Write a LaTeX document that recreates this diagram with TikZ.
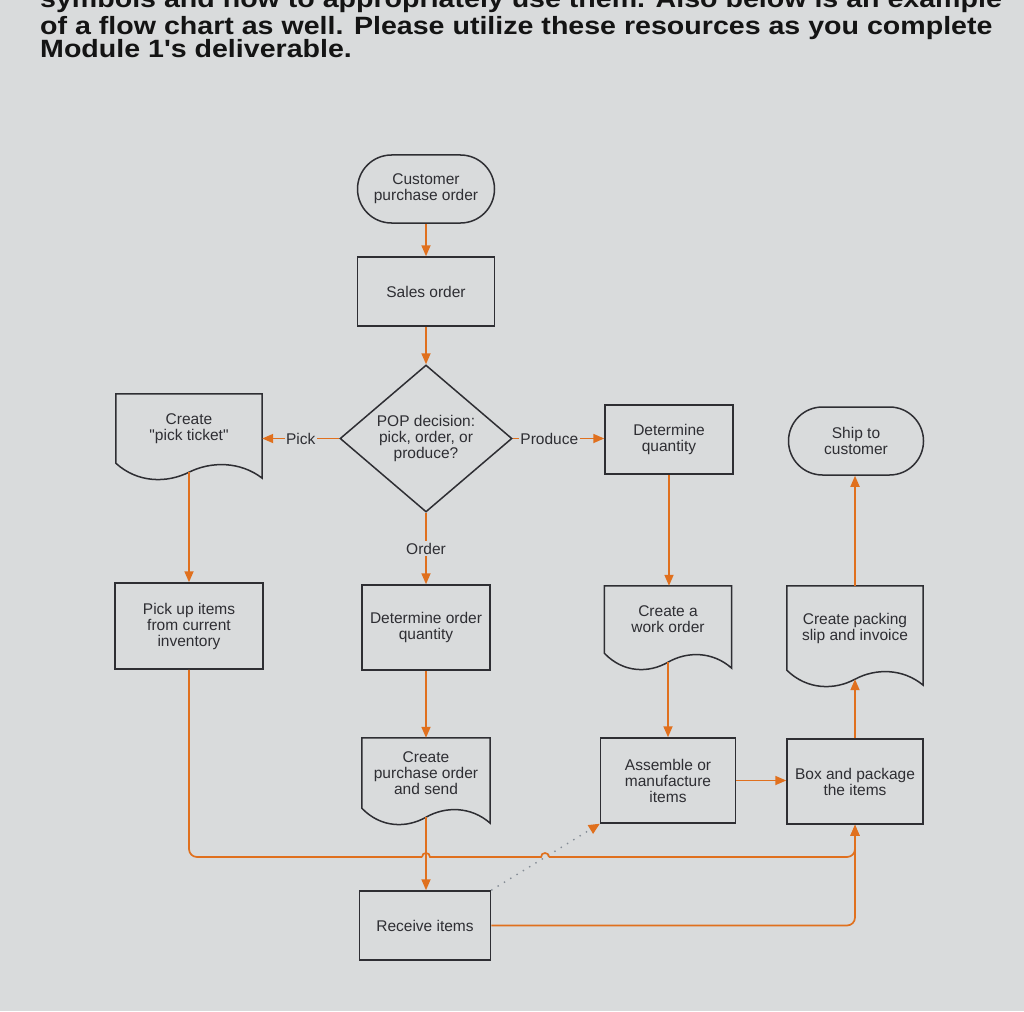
\documentclass[tikz,border=0pt]{standalone}
\usepackage{fontspec}
\setmainfont{Liberation Sans}[Ligatures=TeXOff]
\usetikzlibrary{shapes.geometric,arrows.meta,calc}
\definecolor{bg}{HTML}{D9DBDC}
\definecolor{arr}{HTML}{E0701E}
\definecolor{ink}{HTML}{2E2E33}
\definecolor{dotc}{HTML}{858D96}
\newcommand{\docoutline}[1]{%
  \draw[draw=ink, line width=1.5pt, line join=miter]
    ($(#1.south east)+(0,15)$) -- (#1.north east) -- (#1.north west) -- (#1.south west)
    .. controls ($(#1.south west)!0.15!(#1.south east)+(0,20)$) and ($(#1.south west)!0.35!(#1.south east)+(0,20)$)
    .. ($(#1.south west)!0.5!(#1.south east)+(0,9)$)
    .. controls ($(#1.south west)!0.65!(#1.south east)+(0,-2)$) and ($(#1.south west)!0.85!(#1.south east)+(0,-2)$)
    .. ($(#1.south east)+(0,15)$) -- cycle;
  \coordinate (#1-b) at ($(#1.south)+(0,9)$);}
\begin{document}
\begin{tikzpicture}[x=1pt,y=-1pt,
  every node/.style={font=\fontsize{15.5}{16}\selectfont, text=ink, align=center, inner sep=0pt},
  box/.style={draw=ink, line width=1.5pt, rectangle},
  term/.style={draw=ink, line width=1.5pt, rectangle, rounded corners=34pt},
  dec/.style={draw=ink, line width=1.5pt, diamond, aspect=1.17},
  doc/.style={rectangle},
  flow/.style={draw=arr, line width=1.7pt, -{Triangle[length=11pt,width=9pt]}},
  plain/.style={draw=arr, line width=1.7pt},
  lbl/.style={fill=bg, inner sep=1.5pt},
  head/.style={anchor=base west, font=\fontsize{25}{23}\selectfont\bfseries, text=black!92}
]
\fill[bg] (0,0) rectangle (1024,1011);
\useasboundingbox (0,0) rectangle (1024,1011);
\clip (0,0) rectangle (1024,1011);

% heading text
\node[head] (t1) at (40,8) {\scalebox{1.143}[1]{symbols and how to appropriately use them. Also below is an example}};
\node[head] (t2) at (40,35) {\scalebox{1.143}[1]{of a flow chart as well. Please utilize these resources as you complete}};
\node[head] (t3) at (40,58) {\scalebox{1.143}[1]{Module 1's deliverable.}};

% nodes
\node[term, minimum width=137pt, minimum height=68pt] (cpo) at (426,189) {Customer\\purchase order};
\node[box, minimum width=137pt, minimum height=69pt] (so) at (426,291.5) {Sales order};
\node[dec, minimum width=172pt, minimum height=147pt] (pop) at (426,438.5) {POP decision:\\pick, order, or\\produce?};

\node[doc, minimum width=146pt, minimum height=69pt] (pick) at (189,428.5) {Create\\"pick ticket"};
\docoutline{pick}
\node[box, minimum width=128pt, minimum height=69pt] (dq) at (669,439.5) {Determine\\quantity};
\node[term, minimum width=135pt, minimum height=68pt] (ship) at (856,441) {Ship to\\customer};

\node[box, minimum width=148pt, minimum height=86pt] (pickup) at (189,626) {Pick up items\\from current\\inventory};
\node[box, minimum width=128pt, minimum height=85pt] (doq) at (426,627.5) {Determine order\\quantity};
\node[doc, minimum width=127pt, minimum height=67pt] (cwo) at (668,619.5) {Create a\\work order};
\docoutline{cwo}
\node[doc, minimum width=136pt, minimum height=84pt] (packing) at (855,628) {Create packing\\slip and invoice};
\docoutline{packing}

\node[doc, minimum width=128pt, minimum height=70pt] (cpo2) at (426,773) {Create\\purchase order\\and send};
\docoutline{cpo2}
\node[box, minimum width=135pt, minimum height=85pt] (assemble) at (668,780.5) {Assemble or\\manufacture\\items};
\node[box, minimum width=136pt, minimum height=85pt] (boxp) at (855,781.5) {Box and package\\the items};

\node[box, minimum width=131pt, minimum height=69pt] (receive) at (425,925.5) {Receive items};

% connectors
\draw[flow] (cpo.south) -- (so.north);
\draw[flow] (so.south) -- (pop.north);
\draw[flow] (pop.west) -- node[lbl]{Pick} (pop.west -| pick.east);
\draw[flow] (pop.east) -- node[lbl,pos=0.4]{Produce} (pop.east -| dq.west);
\draw[flow] (pop.south) -- node[lbl]{Order} (doq.north);
\draw[flow] (pick-b) -- (pick-b |- pickup.north);
\draw[flow] (dq.south) -- (dq.south |- cwo.north);
\draw[flow] (cwo-b) -- (assemble.north);
\draw[flow] (doq.south) -- (cpo2.north);
\draw[flow] (cpo2-b) -- (cpo2-b |- receive.north);
\draw[flow] (assemble.east) -- (assemble.east -| boxp.west);
\draw[flow] (boxp.north) -- (boxp.north |- packing-b);
\draw[flow] (packing.north) -- (packing.north |- ship.south);

% dotted connector
\draw[dotc, line width=1.4pt, dash pattern=on 1.4pt off 6pt, -{Triangle[length=11pt,width=10pt,color=arr]}] (receive.north east) -- (assemble.south west);

% rail with jumps
\coordinate (jA) at (422,857);
\coordinate (jB) at (430,857);
\coordinate (jC) at (541,857);
\coordinate (jD) at (549,857);
\draw[plain, rounded corners=8pt] (pickup.south) |- (jA);
\draw[plain] (jA) .. controls (422,851.7) and (430,851.7) .. (jB) -- (jC) .. controls (541,851.7) and (549,851.7) .. (jD);
\draw[flow, rounded corners=8pt] (jD) -| (boxp.south);
\draw[flow, rounded corners=8pt] (receive.east) -| (boxp.south);
\end{tikzpicture}
\end{document}
